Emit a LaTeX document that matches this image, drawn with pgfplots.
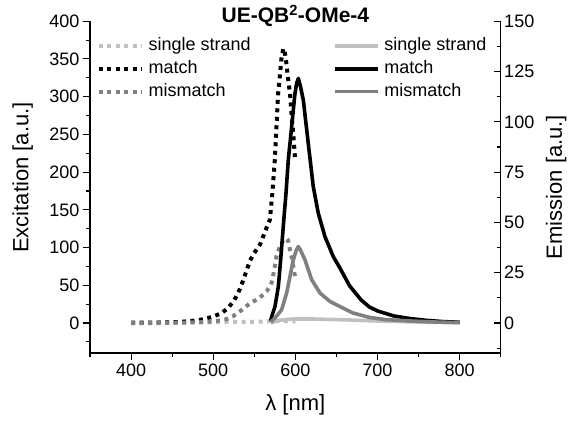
\documentclass[border=0pt]{standalone}
\usepackage{fontspec}
\setmainfont{Liberation Sans}
\usepackage{pgfplots}
\pgfplotsset{compat=1.18}
\definecolor{ssgray}{RGB}{192,192,192}
\definecolor{mmgray}{RGB}{128,128,128}
\begin{document}
\begin{tikzpicture}
\useasboundingbox (-90pt,-68pt) rectangle (479pt,353pt);
\pgfplotsset{
 common/.style={scale only axis, width=410.7pt, height=331.8pt, xmin=350, xmax=850,
   /pgf/number format/assume math mode=true,
   tick label style={font=\fontsize{18}{21}\selectfont},
   label style={font=\fontsize{22}{26}\selectfont},
   axis line style={-, line width=1.1pt},
   major tick length=7pt, minor tick length=4pt,
   tick style={line width=1.1pt, black},
   legend cell align=left,
   legend image code/.code={\draw[##1] (0pt,0pt) -- (43pt,0pt);},
 },
 dotline/.style={line width=4pt, dash pattern=on 4pt off 4.5pt},
 solidline/.style={line width=3.6pt, line join=round},
 legstyle/.style={anchor=north west, draw=none, fill=none, inner sep=0pt, outer sep=0pt,
   row sep=6.3pt, font=\fontsize{18}{21}\selectfont,
   nodes={inner sep=0pt, text height=13pt, text depth=3.5pt},
   /tikz/every odd column/.append style={column sep=5pt}},
}
\begin{axis}[common, axis x line*=bottom, axis y line*=left, tick align=outside,
  ymin=-39.7, ymax=400,
  xtick={400,500,...,800}, minor xtick={350,450,...,850},
  ytick={0,50,...,400}, minor ytick={-25,25,...,375},
  xlabel={λ [nm]}, ylabel={Excitation [a.u.]},
  xlabel style={at={(axis description cs:0.5,-0.157)}, anchor=center},
  ylabel style={at={(axis description cs:-0.164,0.529)}, anchor=center},
  title={UE-QB\textsuperscript{2}-OMe-4},
  title style={at={(axis description cs:0.5,0.998)}, anchor=center, font=\fontsize{21}{25}\selectfont\bfseries},
  legend style={legstyle, at={(axis description cs:0.0163,0.95)}},
]
\addplot[dotline, ssgray] coordinates {
(400,0) (420,0.5) (440,1) (460,1) (480,1) (500,1) (520,1.5) (540,1.5) (560,2) (570,2.5) (580,2.5) (590,2.5) (600,2)
};
\addlegendentry{single strand}
\addplot[dotline, black] coordinates {
(400,0.5) (420,0.5) (440,0.8) (460,1.5) (475,3) (490,5.3) (500,8.7) (510,13) (518,19.8) (526,30.8)
(532,44) (537,58) (541,71) (545,83) (550,93) (557,104) (563,121) (569,137) (572,172) (575,216)
(577,260) (579,304) (581,326) (583,350) (585.4,364) (587,360) (589,345) (591,325) (593.5,304)
(595.5,275) (597.5,250) (599.5,220)
};
\addlegendentry{match}
\addplot[dotline, mmgray] coordinates {
(400,0) (430,0) (460,0.5) (480,1) (495,2) (505,3) (514,4.4) (524,8.8) (535,17.6) (545,26.5)
(553,31) (561,37.5) (565,42) (569,48.5) (571,53) (573,63) (575,75) (577,88) (579,95) (581,101)
(585,109) (589,112.5) (591,110) (593.5,97) (595.5,87) (597.5,75) (599.5,62)
};
\addlegendentry{mismatch}
\end{axis}
\begin{axis}[common, axis y line*=right, axis x line=none, tick align=inside,
  ymin=-14.9, ymax=150,
  ytick={0,25,...,150}, minor ytick={-12.5,12.5,...,137.5},
  ylabel={Emission [a.u.]},
  ylabel style={at={(axis description cs:1.135,0.5)}, anchor=center},
  legend style={legstyle, at={(axis description cs:0.591,0.95)}},
]
\addplot[solidline, ssgray] coordinates {
(570,0) (575,0.8) (580,1.3) (590,1.8) (600,2) (620,2) (640,1.8) (660,1.6) (680,1.3) (700,1)
(730,0.7) (760,0.4) (800,0.2)
};
\addlegendentry{single strand}
\addplot[solidline, black] coordinates {
(570,1) (571.2,3.3) (575.2,8.2) (579.3,18.2) (582.1,31.4) (585.3,48) (588.6,64.5) (591.4,81)
(595.5,97.6) (599.5,114) (601.5,119) (603.6,121.6) (606,118) (609.7,110.8) (615.7,89.3)
(621.8,67.8) (627.9,54.6) (636,43) (646.2,33) (654.3,27.3) (666,18.5) (680,11.5) (690,8)
(700,6) (720,3.5) (740,2.2) (760,1.3) (780,0.7) (800,0.4)
};
\addlegendentry{match}
\addplot[solidline, mmgray] coordinates {
(570,0.5) (575.2,2.5) (583.3,6.6) (589.4,14.9) (593.4,23) (597.5,31.4) (601,36) (603.6,38)
(606,36.5) (611.7,31.4) (619.9,21.5) (630,14.9) (642.2,10.7) (654.3,8.2) (670,5) (690,2.8)
(710,1.7) (740,1) (770,0.5) (800,0.2)
};
\addlegendentry{mismatch}
\end{axis}
\end{tikzpicture}
\end{document}
